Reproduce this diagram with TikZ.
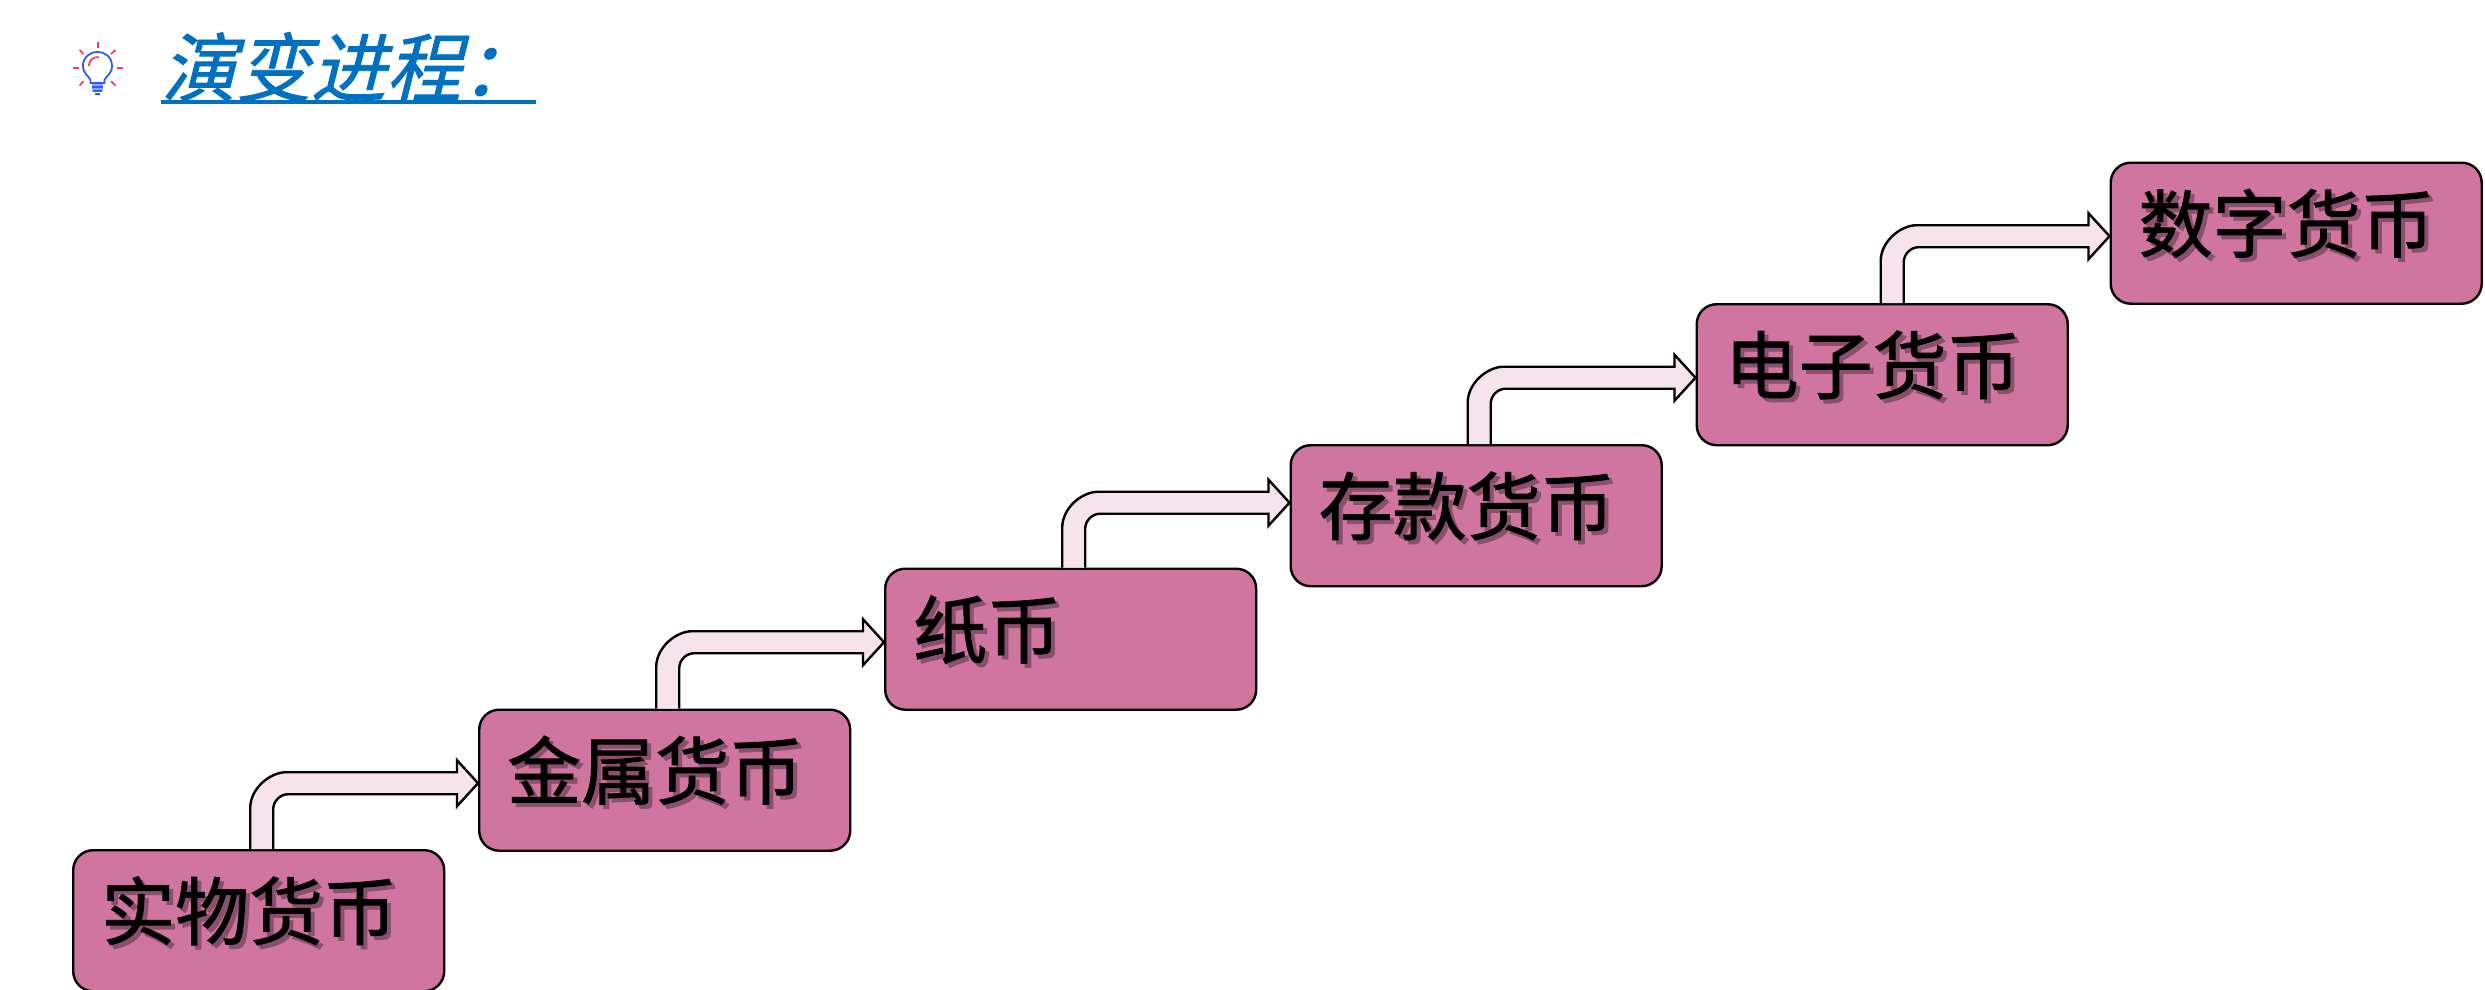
\documentclass[tikz,border=0pt]{standalone}
\usepackage{fontspec}
\usepackage{tikz}
\usetikzlibrary{calc}

\newfontfamily\cjkfont[FakeBold=1.2]{Noto Sans CJK SC}
\newfontfamily\cjktitle[FakeSlant=0.25, FakeBold=1]{Noto Sans CJK SC}

\definecolor{stagepink}{HTML}{CF75A0}
\definecolor{linkpink}{HTML}{F6E3EC}
\definecolor{stageshade}{HTML}{8A4F6C}
\definecolor{titleblue}{HTML}{0070C0}
\definecolor{bulbblue}{HTML}{2F5CF0}
\definecolor{bulbpale}{HTML}{8FA6F5}
\definecolor{rayred}{HTML}{F5396B}

\newcommand{\shadetext}[1]{\rlap{\raisebox{-4pt}{\kern4pt\textcolor{stageshade}{#1}}}#1}

\tikzset{
  stage/.style={draw=black, line width=2.4pt, fill=stagepink, rounded corners=20pt, anchor=north west,
    inner xsep=28pt, inner ysep=0pt, text width=315pt, text height=89pt, text depth=52pt, align=left,
    font=\cjkfont\fontsize{74}{74}\selectfont},
  link/.style={draw=black, line width=2.4pt, fill=linkpink, to path={
    ($(\tikztostart)+(-8.5,0)$) -- ($(\tikztostart |- \tikztotarget)+(-8.5,28)$)
    .. controls ($(\tikztostart |- \tikztotarget)+(-8.5,8)$) and ($(\tikztostart |- \tikztotarget)+(11.5,-8)$) .. ($(\tikztostart |- \tikztotarget)+(27.5,-8)$)
    -- ($(\tikztotarget)+(-21,-8)$) -- ($(\tikztotarget)+(-21,-20)$) -- ($(\tikztotarget)+(0,3)$)
    -- ($(\tikztotarget)+(-21,26)$) -- ($(\tikztotarget)+(-21,14)$)
    -- ($(\tikztostart |- \tikztotarget)+(29.5,14)$)
    .. controls ($(\tikztostart |- \tikztotarget)+(21.5,14)$) and ($(\tikztostart |- \tikztotarget)+(14.5,21)$) .. ($(\tikztostart |- \tikztotarget)+(14.5,29)$)
    -- ($(\tikztostart)+(14.5,0)$)}},
  bulbline/.style={draw=bulbblue, line width=1.8pt},
  rayline/.style={draw=rayred, line width=1.8pt}
}

\begin{document}
\begin{tikzpicture}[x=1pt, y=-1pt]

\useasboundingbox (0, 0) rectangle (2485, 990);

\node[anchor=south west, inner sep=0pt, text height=64pt, text depth=6pt, text=titleblue,
  font=\cjktitle\fontsize{75}{75}\selectfont] (title) at (161, 102) {演变进程：};
\draw[titleblue, line width=3.5pt] (title.south west) -- (title.south east);

\draw[rayline] (97.6, 42) -- (97.6, 48);
\draw[rayline] (72.7, 67.7) -- (78.5, 67.7);
\draw[rayline] (117, 67.7) -- (123, 67.7);
\draw[rayline] (79.6, 50) -- (83.4, 54);
\draw[rayline] (115.6, 50) -- (111, 54);
\draw[rayline] (79.6, 85.6) -- (83.4, 81.3);
\draw[rayline] (115.6, 85.6) -- (111, 81.3);
\draw[rayline] (88.8, 66) .. controls (89, 60) and (93, 57) .. (98.7, 57);

\draw[bulbline] (90.5, 83) -- (90.5, 80) .. controls (89, 76) and (83, 74) .. (83, 66) .. controls (83, 57) and (90, 52) .. (97.6, 52) .. controls (105, 52) and (112, 57) .. (112, 66) .. controls (112, 74) and (106, 76) .. (104.5, 80) -- (104.5, 83) -- cycle;
\fill[bulbpale] (92, 84) rectangle (103, 91);
\draw[bulbline] (92, 87) -- (103, 87);
\draw[bulbline] (93, 91) -- (102, 91);
\draw[bulbline] (95, 94) -- (100, 94);

\node[stage] (goods) at (72, 849) {\shadetext{实物货币}};
\node[stage] (metal) at (478, 708.5) {\shadetext{金属货币}};
\node[stage] (paper) at (884, 567.5) {\shadetext{纸币}};
\node[stage] (deposit) at (1289.5, 444) {\shadetext{存款货币}};
\node[stage] (electronic) at (1695.5, 303) {\shadetext{电子货币}};
\node[stage] (digital) at (2109.5, 161.5) {\shadetext{数字货币}};

\coordinate (depositin) at ($(deposit.west)+(0,-16)$);
\coordinate (electronicout) at ($(electronic.north)+(7,0)$);

\draw[link] (goods.north) to (metal.west);
\draw[link] (metal.north) to (paper.west);
\draw[link] (paper.north) to (depositin);
\draw[link] (deposit.north) to (electronic.west);
\draw[link] (electronicout) to (digital.west);

\end{tikzpicture}
\end{document}
